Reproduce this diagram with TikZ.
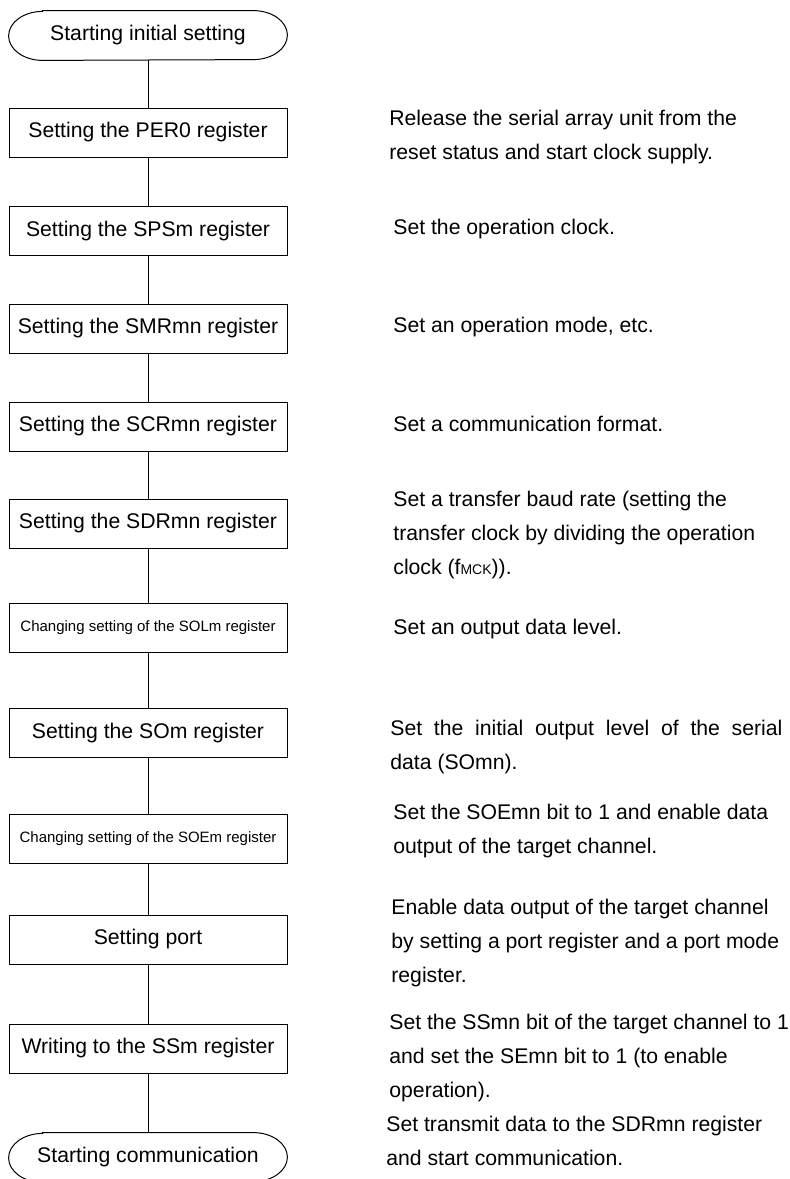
\documentclass[tikz,border=0pt]{standalone}
\usepackage{fontspec}
\setmainfont{Liberation Sans}

\begin{document}
\begin{tikzpicture}[x=0.5pt, y=-0.5pt,
    regbox/.style={draw, line width=0.5pt, minimum width=139pt, minimum height=24.5pt, inner sep=0pt, font=\fontsize{10.6}{13}\selectfont},
    smallbox/.style={regbox, font=\fontsize{7.5}{9}\selectfont},
    termbox/.style={minimum width=139pt, minimum height=24.5pt, inner sep=0pt, font=\fontsize{10.6}{13}\selectfont},
    note/.style={anchor=west, align=left, inner sep=0pt, font=\fontsize{10.6}{17}\selectfont}]
    \useasboundingbox (0,0) rectangle (789,1179);

    % Inicio
    \node[termbox] (start) at (148,35.5) {Starting initial setting};
    \draw[line width=0.5pt] ([xshift=17pt]start.north west) -- ([xshift=-17pt]start.north east) arc[start angle=90, end angle=-90, x radius=17pt, y radius=12.25pt] -- ([xshift=17pt]start.south west) arc[start angle=270, end angle=90, x radius=17pt, y radius=12.25pt] -- cycle;

    % Registros
    \node[regbox] (per) at (148,132.5) {Setting the PER0 register};
    \node[regbox] (sps) at (148,231) {Setting the SPSm register};
    \node[regbox] (smr) at (148,328.5) {Setting the SMRmn register};
    \node[regbox] (scr) at (148,426.5) {Setting the SCRmn register};
    \node[regbox] (sdr) at (148,523.5) {Setting the SDRmn register};
    \node[smallbox] (sol) at (148,627.5) {Changing setting of the SOLm register};
    \node[regbox] (som) at (148,733) {Setting the SOm register};
    \node[smallbox] (soe) at (148,838.5) {Changing setting of the SOEm register};
    \node[regbox] (port) at (148,939.5) {Setting port};
    \node[regbox] (ssm) at (148,1048.5) {Writing to the SSm register};

    % Fin
    \node[termbox] (comm) at (148,1157.5) {Starting communication};
    \draw[line width=0.5pt] ([xshift=17pt]comm.north west) -- ([xshift=-17pt]comm.north east) arc[start angle=90, end angle=-90, x radius=17pt, y radius=12.25pt] -- ([xshift=17pt]comm.south west) arc[start angle=270, end angle=90, x radius=17pt, y radius=12.25pt] -- cycle;

    % Lineas de flujo
    \draw[line width=0.5pt] (start) -- (per);
    \draw[line width=0.5pt] (per) -- (sps);
    \draw[line width=0.5pt] (sps) -- (smr);
    \draw[line width=0.5pt] (smr) -- (scr);
    \draw[line width=0.5pt] (scr) -- (sdr);
    \draw[line width=0.5pt] (sdr) -- (sol);
    \draw[line width=0.5pt] (sol) -- (som);
    \draw[line width=0.5pt] (som) -- (soe);
    \draw[line width=0.5pt] (soe) -- (port);
    \draw[line width=0.5pt] (port) -- (ssm);
    \draw[line width=0.5pt] (ssm) -- (comm);

    % Notas a la derecha
    \node[note] (nper) at (389,137) {Release the serial array unit from the\\reset status and start clock supply.};
    \node[note] (nsps) at (393,229) {Set the operation clock.};
    \node[note] (nsmr) at (393,327) {Set an operation mode, etc.};
    \node[note] (nscr) at (393,424) {Set a communication format.};
    \node[note] (nsdr) at (393,535) {Set a transfer baud rate (setting the\\transfer clock by dividing the operation\\clock (f{\fontsize{7}{8}\selectfont MCK})).};
    \node[note] (nsol) at (393,629) {Set an output data level.};
    \node[note] (nsom) at (390,747) {\makebox[196pt][s]{Set the initial output level of the serial}\\data (SOmn).};
    \node[note] (nsoe) at (393,831.5) {Set the SOEmn bit to 1 and enable data\\output of the target channel.};
    \node[note] (nport) at (391,943) {Enable data output of the target channel\\by setting a port register and a port mode\\register.};
    \node[note] (nssm) at (389,1058) {Set the SSmn bit of the target channel to 1\\and set the SEmn bit to 1 (to enable\\operation).};
    \node[note] (ncomm) at (386,1141) {Set transmit data to the SDRmn register\\and start communication.};
\end{tikzpicture}
\end{document}
